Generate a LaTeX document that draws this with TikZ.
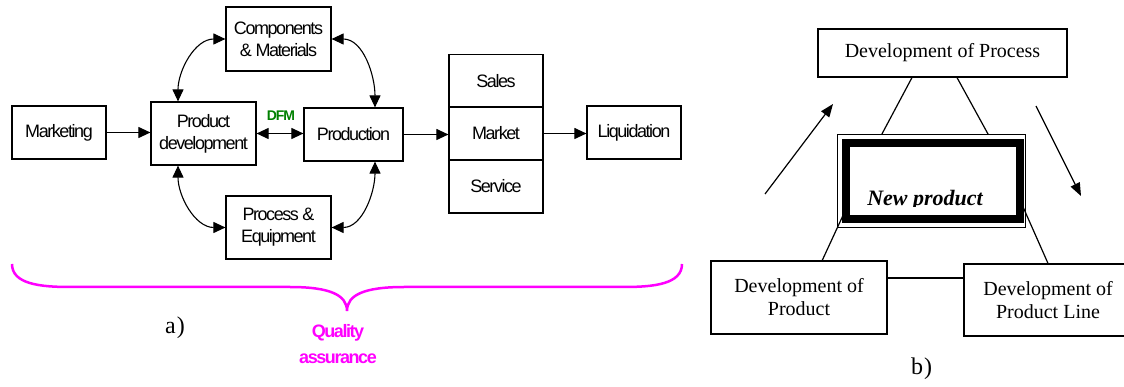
\documentclass[tikz,border=0pt]{standalone}
\usepackage{fontspec}
\setmainfont{Liberation Serif}
\newfontfamily\narrowsans[LetterSpace=-8]{Liberation Sans}
\usetikzlibrary{arrows.meta,calc}
\definecolor{qamagenta}{RGB}{255,0,255}
\definecolor{dfmgreen}{RGB}{0,128,0}

\begin{document}
\begin{tikzpicture}[x=1pt,y=-1pt,
  flowbox/.style={draw, line width=1.2pt, inner sep=0pt, align=center,
    font=\narrowsans\fontsize{18}{22}\selectfont},
  flowarrow/.style={line width=1.1pt, -{Triangle[length=12pt,width=11pt]}},
  bothway/.style={line width=1.1pt,
    {Triangle[length=12pt,width=11pt]}-{Triangle[length=12pt,width=11pt]}},
  devbox/.style={draw, line width=1.2pt, inner sep=0pt, align=center,
    font=\fontsize{20}{23}\selectfont},
  link/.style={line width=1.2pt},
  freearrow/.style={line width=1.2pt, -{Triangle[length=13pt,width=10pt]}},
  sublabel/.style={font=\fontsize{24}{26}\selectfont, inner sep=0pt},
]
\useasboundingbox (0,0) rectangle (1124,387);

% ---------- (a) product life cycle ----------
\node[flowbox, minimum width=94pt, minimum height=53pt] (mk) at (59,132.5) {Marketing};
\node[flowbox, minimum width=105pt, minimum height=63pt] (pd) at (203.5,133.5) {Product\\development};
\node[flowbox, minimum width=105pt, minimum height=64pt] (cm) at (278.5,39) {Components\\\& Materials};
\node[flowbox, minimum width=105pt, minimum height=63pt] (pe) at (278.5,227.5) {Process \&\\Equipment};
\node[flowbox, minimum width=99pt, minimum height=53pt] (pr) at (353.5,134.5) {Production};
\node[flowbox, minimum width=94pt, minimum height=53pt] (sales) at (496,81) {Sales};
\node[flowbox, minimum width=94pt, minimum height=53pt] (market) at (496,133.5) {Market};
\node[flowbox, minimum width=94pt, minimum height=53pt] (service) at (496,186.5) {Service};
\node[flowbox, minimum width=94pt, minimum height=53pt] (lq) at (634,132.5) {Liquidation};
\node[font=\narrowsans\bfseries\fontsize{14}{16}\selectfont, text=dfmgreen] (dfm) at (281,116) {DFM};

\draw[flowarrow] (mk.east) -- (mk.east -| pd.west);
\draw[bothway] (pd.east) -- (pd.east -| pr.west);
\draw[flowarrow] (pr.east) -- (pr.east -| market.west);
\draw[flowarrow] (market.east) -- (market.east -| lq.west);

\draw[bothway] ([xshift=-25.5pt]pd.north) to[out=90,in=180] (cm.west);
\draw[bothway] (cm.east) to[out=0,in=90] ([xshift=21.5pt]pr.north);
\draw[bothway] ([xshift=-25.5pt]pd.south) to[out=-90,in=180] (pe.west);
\draw[bothway] (pe.east) to[out=0,in=-90] ([xshift=21.5pt]pr.south);

% quality assurance brace
\draw[qamagenta, line width=2.5pt]
  (12,264) .. controls (12,284) and (40,287) .. (70,287) -- (290,287)
  .. controls (330,287) and (347,295) .. (347,311)
  .. controls (347,295) and (364,287) .. (404,287) -- (624,287)
  .. controls (654,287) and (682,284) .. (682,264);
\node[font=\narrowsans\bfseries\fontsize{18}{26}\selectfont, text=qamagenta, align=center]
  (qa) at (338,344) {Quality\\assurance};
\node[sublabel] (lbla) at (175,328) {a\kern1pt)};

% ---------- (b) new product triangle ----------
\node[devbox, minimum width=249pt, minimum height=48pt] (dproc) at (942.5,53) {Development of Process};
\node[draw, line width=1pt, minimum width=188pt, minimum height=93pt, inner sep=0pt] (np) at (931,181.5) {};
\draw[line width=8pt] ($(np.north west)+(9,9)$) rectangle ($(np.south east)+(-6,-9)$);
\begin{scope}
  \clip (840,150) rectangle (1020,206.5);
  \node[font=\bfseries\itshape\fontsize{22}{26}\selectfont, anchor=base] (nptext) at (925,205.5) {New product};
\end{scope}
\node[devbox, minimum width=176pt, minimum height=73pt] (dprod) at (799,297.5) {Development of\\Product};
\node[devbox, minimum width=168pt, minimum height=72pt] (dpl) at (1048,300) {Development of\\Product Line};

\draw[link] ($(dproc.south west)!0.378!(dproc.south east)$) -- ($(np.north west)!0.239!(np.north east)$);
\draw[link] ($(dproc.south west)!0.558!(dproc.south east)$) -- ($(np.north west)!0.803!(np.north east)$);
\draw[link] ($(np.south west)+(6,-12)$) -- ($(dprod.north west)!0.631!(dprod.north east)$);
\draw[link] ($(np.north east)+(-4,69)$) -- (dpl.north);
\coordinate (lv) at (0,278);
\draw[link] (dprod.east |- lv) -- (dpl.west |- lv);

\coordinate (la0) at (765,194);
\coordinate (la1) at (833,104);
\coordinate (ra0) at (1036,106);
\coordinate (ra1) at (1081,196);
\draw[freearrow] (la0) -- (la1);
\draw[freearrow] (ra0) -- (ra1);

\node[sublabel] (lblb) at (921.5,369) {b\kern1pt)};
\end{tikzpicture}
\end{document}
